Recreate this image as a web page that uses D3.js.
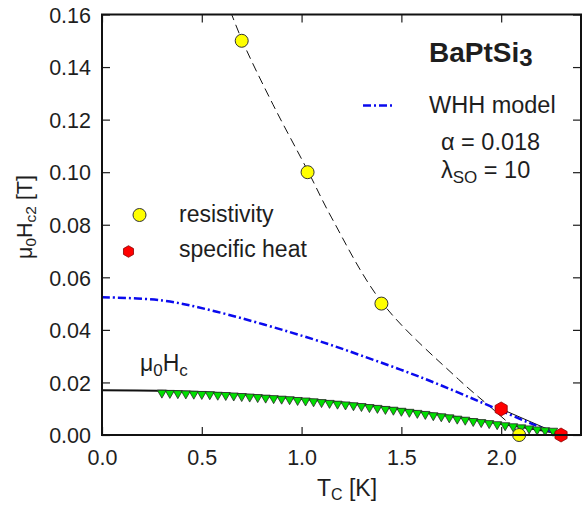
<!DOCTYPE html>
<html>
<head>
<meta charset="utf-8">
<script src="https://cdn.jsdelivr.net/npm/d3@7"></script>
<style>
  body { margin: 0; background: #fff; }
  svg { display: block; font-family: "Liberation Sans", Arial, sans-serif; }
  .tick text { fill: #1e1e1e; }
</style>
</head>
<body>
<div id="chart"></div>
<script>
// resistivity (yellow circles)
const resT = [0.70, 1.03, 1.40, 2.09];
const resH = [0.150, 0.100, 0.050, 0.000];

// specific heat (red hexagons)
const heatT = [2.00, 2.30];
const heatH = [0.0099, 0.000];

// dashed guide through resistivity points
const dashT = [0.62, 0.703, 0.857, 1.034, 1.151, 1.405, 1.786, 1.953, 2.105];
const dashH = [0.166, 0.150, 0.1257, 0.1001, 0.0826, 0.0502, 0.0212, 0.0102, 0.000];

// WHH model curve
const whhT = [0, 0.30, 0.575, 1.06, 1.293, 1.61, 1.911, 2.145, 2.30];
const whhH = [0.0524, 0.0512, 0.0469, 0.0364, 0.0304, 0.0216, 0.0121, 0.0045, 0.000];

// thermodynamic critical field line
const hcT = [0, 0.30, 0.60, 0.90, 1.20, 1.50, 1.80, 2.00, 2.20, 2.30];
const hcH = [0.0170, 0.0168, 0.0159, 0.0144, 0.0124, 0.0098, 0.0066, 0.0042, 0.0018, 0.0005];

// green triangles, T = 0.30 ... 2.26 in steps of 0.04
const triT = d3.range(50).map(i => +(0.30 + 0.04 * i).toFixed(2));
const triH = [0.0157, 0.0156, 0.0155, 0.0154, 0.0153, 0.0152, 0.0151, 0.0149, 0.0148, 0.0146,
              0.0144, 0.0142, 0.0140, 0.0138, 0.0136, 0.0134, 0.0132, 0.0129, 0.0127, 0.0124,
              0.0121, 0.0118, 0.0115, 0.0112, 0.0109, 0.0106, 0.0102, 0.0099, 0.0095, 0.0092,
              0.0088, 0.0084, 0.0080, 0.0076, 0.0071, 0.0067, 0.0063, 0.0058, 0.0054, 0.0049,
              0.0045, 0.0041, 0.0037, 0.0033, 0.0029, 0.0025, 0.0021, 0.0017, 0.0014, 0.0012];

const xTicks = [0, 0.5, 1.0, 1.5, 2.0];
const yTicks = [0, 0.02, 0.04, 0.06, 0.08, 0.10, 0.12, 0.14, 0.16];

const W = 583, H = 505;
const pLeft = 102, pRight = 581, pTop = 14.5, pBottom = 435;
const ink = '#1e1e1e';

const svg = d3.select('#chart').append('svg')
  .attr('width', W)
  .attr('height', H);

const x = d3.scaleLinear().domain([0, 2.4]).range([pLeft, pRight]);
const y = d3.scaleLinear().domain([0, 0.16]).range([pBottom, pTop]);

svg.append('clipPath').attr('id', 'plot')
  .append('rect')
  .attr('x', pLeft).attr('y', pTop)
  .attr('width', pRight - pLeft).attr('height', pBottom - pTop);

const zip = (a, b) => a.map((v, i) => [v, b[i]]);
const line = d3.line()
  .x(d => x(d[0]))
  .y(d => y(d[1]))
  .curve(d3.curveCatmullRom.alpha(0.5));

const plot = svg.append('g').attr('clip-path', 'url(#plot)');

// Hc solid line
plot.append('path')
  .datum(zip(hcT, hcH))
  .attr('fill', 'none')
  .attr('stroke', '#111')
  .attr('stroke-width', 2)
  .attr('d', line);

// thin line between the specific heat points
plot.append('path')
  .datum(zip(heatT, heatH))
  .attr('fill', 'none')
  .attr('stroke', '#111')
  .attr('stroke-width', 1)
  .attr('d', d3.line().x(d => x(d[0])).y(d => y(d[1])));

// dashed guide
plot.append('path')
  .datum(zip(dashT, dashH))
  .attr('fill', 'none')
  .attr('stroke', '#111')
  .attr('stroke-width', 1)
  .attr('stroke-dasharray', '9,5')
  .attr('d', line);

// WHH dash-dot
plot.append('path')
  .datum(zip(whhT, whhH))
  .attr('fill', 'none')
  .attr('stroke', '#0a0aee')
  .attr('stroke-width', 2.5)
  .attr('stroke-dasharray', '8,3,2,3')
  .attr('d', line);

// triangles
svg.append('g').selectAll('path')
  .data(zip(triT, triH))
  .join('path')
  .attr('transform', d => `translate(${x(d[0])},${y(d[1])})`)
  .attr('d', 'M-4.6,-3.6L4.6,-3.6L0,4.4Z')
  .attr('fill', '#00e000')
  .attr('stroke', '#2a2a2a')
  .attr('stroke-width', 0.8);

function hexPath(r) {
  const pts = d3.range(6).map(k => {
    const a = (-90 + 60 * k) * Math.PI / 180;
    return [r * Math.cos(a), r * Math.sin(a)];
  });
  return 'M' + pts.map(p => p.join(',')).join('L') + 'Z';
}

// resistivity points
svg.append('g').selectAll('circle')
  .data(zip(resT, resH))
  .join('circle')
  .attr('cx', d => x(d[0]))
  .attr('cy', d => y(d[1]))
  .attr('r', 6.5)
  .attr('fill', '#ffff00')
  .attr('stroke', '#333')
  .attr('stroke-width', 1);

// specific heat points
svg.append('g').selectAll('path')
  .data(zip(heatT, heatH))
  .join('path')
  .attr('transform', d => `translate(${x(d[0])},${y(d[1])})`)
  .attr('d', hexPath(7))
  .attr('fill', '#ff0000')
  .attr('stroke', '#8a0000')
  .attr('stroke-width', 0.8);

// axes: ticks point inward on all four sides
const fmtX = d3.format('.1f'), fmtY = d3.format('.2f');

const gx = svg.append('g')
  .attr('transform', `translate(0,${pBottom})`)
  .call(d3.axisBottom(x).tickValues(xTicks).tickFormat(fmtX).tickSizeInner(-8).tickSizeOuter(0).tickPadding(15));
const gy = svg.append('g')
  .attr('transform', `translate(${pLeft},0)`)
  .call(d3.axisLeft(y).tickValues(yTicks).tickFormat(fmtY).tickSizeInner(-8).tickSizeOuter(0).tickPadding(11));
svg.append('g')
  .attr('transform', `translate(0,${pTop})`)
  .call(d3.axisTop(x).tickValues(xTicks).tickFormat('').tickSizeInner(-8).tickSizeOuter(0));
svg.append('g')
  .attr('transform', `translate(${pRight},0)`)
  .call(d3.axisRight(y).tickValues(yTicks).tickFormat('').tickSizeInner(-8).tickSizeOuter(0));

svg.selectAll('.domain').remove();
svg.selectAll('.tick line').attr('stroke', ink).attr('stroke-width', 1.2);
gx.selectAll('.tick text').style('font-size', '21.5px').style('font-family', 'Liberation Sans, Arial, sans-serif');
gy.selectAll('.tick text').style('font-size', '21.5px').style('font-family', 'Liberation Sans, Arial, sans-serif').attr('dy', '0.36em');

svg.append('rect')
  .attr('x', pLeft).attr('y', pTop)
  .attr('width', pRight - pLeft).attr('height', pBottom - pTop)
  .attr('fill', 'none')
  .attr('stroke', '#111')
  .attr('stroke-width', 2);

// axis labels
const xl = svg.append('text')
  .attr('x', 347).attr('y', 496)
  .attr('text-anchor', 'middle')
  .attr('fill', ink)
  .style('font-size', '23px');
xl.append('tspan').text('T');
xl.append('tspan').attr('dy', 4).style('font-size', '16px').text('C');
xl.append('tspan').attr('dy', -4).text(' [K]');

const yl = svg.append('text')
  .attr('transform', 'translate(32,217) rotate(-90)')
  .attr('text-anchor', 'middle')
  .attr('fill', ink)
  .style('font-size', '21.5px');
yl.append('tspan').text('\u03bc');
yl.append('tspan').attr('dy', 4).style('font-size', '15.5px').text('0');
yl.append('tspan').attr('dy', -4).text('H');
yl.append('tspan').attr('dy', 4).style('font-size', '15.5px').text('c2');
yl.append('tspan').attr('dy', -4).text(' [T]');

// annotations
const title = svg.append('text')
  .attr('x', 429).attr('y', 62)
  .attr('fill', ink)
  .style('font-size', '28px')
  .style('font-weight', 'bold');
title.append('tspan').text('BaPtSi');
title.append('tspan').attr('dy', 4).style('font-size', '24px').text('3');

svg.append('line')
  .attr('x1', 363).attr('x2', 392)
  .attr('y1', 105.5).attr('y2', 105.5)
  .attr('stroke', '#0a0aee')
  .attr('stroke-width', 2.5)
  .attr('stroke-dasharray', '8,3,2,3');

svg.append('text')
  .attr('x', 429).attr('y', 113)
  .attr('fill', ink)
  .style('font-size', '23.5px')
  .text('WHH model');

svg.append('text')
  .attr('x', 441).attr('y', 150)
  .attr('fill', ink)
  .style('font-size', '23.5px')
  .text('\u03b1 = 0.018');

const lam = svg.append('text')
  .attr('x', 441).attr('y', 177.5)
  .attr('fill', ink)
  .style('font-size', '23.5px');
lam.append('tspan').text('\u03bb');
lam.append('tspan').attr('dy', 5).style('font-size', '17px').text('SO');
lam.append('tspan').attr('dy', -5).text(' = 10');

// legend for data points
svg.append('circle')
  .attr('cx', 139.5).attr('cy', 215)
  .attr('r', 6.5)
  .attr('fill', '#ffff00')
  .attr('stroke', '#333')
  .attr('stroke-width', 1);
svg.append('text')
  .attr('x', 179).attr('y', 222)
  .attr('fill', ink)
  .style('font-size', '23px')
  .text('resistivity');

svg.append('path')
  .attr('transform', 'translate(128.5,251.5)')
  .attr('d', hexPath(5.8))
  .attr('fill', '#ff0000')
  .attr('stroke', '#8a0000')
  .attr('stroke-width', 0.8);
svg.append('text')
  .attr('x', 179).attr('y', 257)
  .attr('fill', ink)
  .style('font-size', '23px')
  .text('specific heat');

const hc = svg.append('text')
  .attr('x', 140).attr('y', 371)
  .attr('fill', ink)
  .style('font-size', '23px');
hc.append('tspan').text('\u03bc');
hc.append('tspan').attr('dy', 5).style('font-size', '17px').text('0');
hc.append('tspan').attr('dy', -5).text('H');
hc.append('tspan').attr('dy', 5).style('font-size', '17px').text('c');
</script>
</body>
</html>
